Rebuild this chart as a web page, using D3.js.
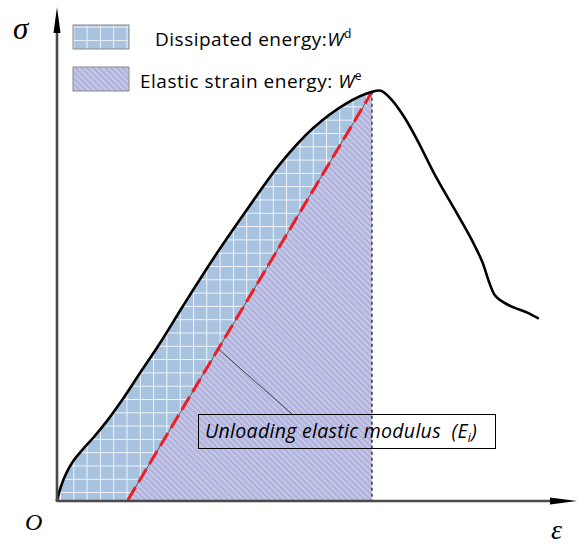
<!DOCTYPE html>
<html>
<head>
<meta charset="utf-8">
<script src="https://cdn.jsdelivr.net/npm/d3@7/dist/d3.min.js"></script>
<style>
  html, body { margin: 0; padding: 0; background: #fff; }
  svg { display: block; }
</style>
</head>
<body>
<svg id="chart" width="579" height="546"></svg>
<script>
// Stress–strain curve (arbitrary units)
const strain = [0, 0.08, 0.17, 0.30, 0.48, 0.69, 0.95, 1.24, 1.58, 1.96, 2.40, 3.01, 3.64, 4.25, 4.88, 5.49, 6.00, 6.17, 6.38, 6.61, 6.86, 7.20, 7.58, 7.90, 8.10, 8.23, 8.34, 8.50, 8.72, 8.97, 9.16];
const stress = [0, 0.29, 0.53, 0.78, 1.02, 1.27, 1.61, 2.04, 2.59, 3.20, 3.96, 4.98, 5.96, 6.86, 7.59, 8.08, 8.33, 8.35, 8.16, 7.82, 7.35, 6.63, 5.92, 5.31, 4.86, 4.45, 4.18, 4.04, 3.92, 3.82, 3.71];

// Unloading point on the curve and the residual strain where the unloading line meets the axis
const unloadPoint = [6.00, 8.33];
const residualStrain = 1.35;

const legendLabels = ["Dissipated energy:", "Elastic strain energy: "];
const legendSymbols = ["W", "W"];
const legendSups = ["d", "e"];
const axisLabels = { y: "σ", x: "ε", origin: "O" };
const noteLabel = "Unloading elastic modulus\u00a0\u00a0(E";
const noteSub = "i";

const svg = d3.select("#chart");
const x = d3.scaleLinear().domain([0, 10]).range([57, 582]);
const y = d3.scaleLinear().domain([0, 10]).range([500, 10]);

const pts = strain.map((s, i) => [s, stress[i]]);
const defs = svg.append("defs");

// Grid fill for dissipated energy
const grid = defs.append("pattern").attr("id", "grid")
  .attr("patternUnits", "userSpaceOnUse").attr("width", 13.3).attr("height", 13.3)
  .attr("x", 60).attr("y", 0);
grid.append("rect").attr("width", 13.3).attr("height", 13.3).attr("fill", "#a7c3df");
grid.append("path").attr("d", "M0,0H13.3M0,0V13.3").attr("stroke", "#f2f4f8").attr("stroke-width", 2);

// Diagonal hatch for elastic strain energy
const hatch = defs.append("pattern").attr("id", "hatch")
  .attr("patternUnits", "userSpaceOnUse").attr("width", 4.2).attr("height", 10)
  .attr("patternTransform", "rotate(-45)");
hatch.append("rect").attr("width", 4.2).attr("height", 10).attr("fill", "#ccc6e4");
hatch.append("rect").attr("width", 2.1).attr("height", 10).attr("fill", "#a9b3df");

defs.append("clipPath").attr("id", "preUnload")
  .append("rect").attr("x", x(0)).attr("y", 0)
  .attr("width", x(unloadPoint[0]) - x(0)).attr("height", y(0));

const curve = d3.curveCatmullRom.alpha(0.5);

// Area under the loading branch up to the unloading point
const area = d3.area().x(d => x(d[0])).y0(y(0)).y1(d => y(d[1])).curve(curve);
svg.append("path").datum(pts).attr("d", area)
  .attr("fill", "url(#grid)").attr("clip-path", "url(#preUnload)");

// Elastic triangle
const tri = [[residualStrain, 0], unloadPoint, [unloadPoint[0], 0]];
svg.append("path")
  .attr("d", "M" + tri.map(d => [x(d[0]), y(d[1])].join(",")).join("L") + "Z")
  .attr("fill", "url(#hatch)");

// Vertical dashed line at the unloading strain
svg.append("line")
  .attr("x1", x(unloadPoint[0])).attr("x2", x(unloadPoint[0]))
  .attr("y1", y(unloadPoint[1])).attr("y2", y(0))
  .attr("stroke", "#111").attr("stroke-width", 1.2).attr("stroke-dasharray", "3,3");

// Unloading line: thin grey line with red dashes on top
svg.append("line")
  .attr("x1", x(residualStrain)).attr("y1", y(0))
  .attr("x2", x(unloadPoint[0])).attr("y2", y(unloadPoint[1]))
  .attr("stroke", "#555").attr("stroke-width", 1);
svg.append("line")
  .attr("x1", x(residualStrain)).attr("y1", y(0))
  .attr("x2", x(unloadPoint[0])).attr("y2", y(unloadPoint[1]))
  .attr("stroke", "#ee1c24").attr("stroke-width", 3).attr("stroke-dasharray", "15,6");

// Stress–strain curve
const line = d3.line().x(d => x(d[0])).y(d => y(d[1])).curve(curve);
svg.append("path").datum(pts).attr("d", line)
  .attr("fill", "none").attr("stroke", "#000").attr("stroke-width", 2.6)
  .attr("stroke-linejoin", "round").attr("stroke-linecap", "round");

// Axes with arrow heads
const ax = svg.append("g");
const x0 = x(0), yb = y(0) + 1;
ax.append("line").attr("x1", x0).attr("y1", yb).attr("x2", 556).attr("y2", yb)
  .attr("stroke", "#4a4a4a").attr("stroke-width", 2.6);
ax.append("path").attr("d", `M550,${yb - 3.5}L577,${yb}L550,${yb + 3.5}Z`).attr("fill", "#000");
ax.append("line").attr("x1", x0).attr("y1", yb + 1).attr("x2", x0).attr("y2", 28)
  .attr("stroke", "#4a4a4a").attr("stroke-width", 2.6);
ax.append("path").attr("d", `M${x0 - 3.5},33L${x0},7L${x0 + 3.5},33Z`).attr("fill", "#000");

// Axis labels
const serif = "'Liberation Serif','DejaVu Serif',serif";
svg.append("text").attr("x", 13).attr("y", 39).text(axisLabels.y)
  .attr("font-family", serif).attr("font-style", "italic").attr("font-size", 31);
svg.append("text").attr("x", 551).attr("y", 539).text(axisLabels.x)
  .attr("font-family", serif).attr("font-style", "italic").attr("font-size", 28);
svg.append("text").attr("x", 25).attr("y", 530).text(axisLabels.origin)
  .attr("font-family", serif).attr("font-style", "italic").attr("font-size", 24);

// Legend
const sans = "'Open Sans', Lato, sans-serif";
const legendFills = ["url(#grid)", "url(#hatch)"];
const legendY = [25, 67];
const legendTextX = [155, 140];
legendLabels.forEach((lab, i) => {
  svg.append("rect").attr("x", 73).attr("y", legendY[i]).attr("width", 56).attr("height", 24)
    .attr("fill", legendFills[i]).attr("stroke", "#8a8a8a").attr("stroke-width", 1);
  const t = svg.append("text").attr("x", legendTextX[i]).attr("y", legendY[i] + 21)
    .attr("font-family", sans).attr("font-size", 19).attr("letter-spacing", 0.5).attr("fill", "#000");
  t.append("tspan").text(lab);
  t.append("tspan").attr("font-style", "italic").text(legendSymbols[i]);
  t.append("tspan").attr("font-size", 12).attr("dy", -8).text(legendSups[i]);
});

// Annotation for the unloading elastic modulus
const tNote = 0.37;
const lx = x(residualStrain + tNote * (unloadPoint[0] - residualStrain));
const ly = y(tNote * unloadPoint[1]);
svg.append("line").attr("x1", lx).attr("y1", ly).attr("x2", 292).attr("y2", 414)
  .attr("stroke", "#444").attr("stroke-width", 1);
svg.append("rect").attr("x", 198.5).attr("y", 414.5).attr("width", 297).attr("height", 34)
  .attr("fill", "none").attr("stroke", "#000").attr("stroke-width", 1);
const note = svg.append("text").attr("x", 205).attr("y", 438)
  .attr("font-family", sans).attr("font-style", "italic").attr("font-size", 19.5)
  .attr("letter-spacing", 0.3);
note.append("tspan").text(noteLabel);
note.append("tspan").attr("font-size", 12).attr("dy", 4).text(noteSub);
note.append("tspan").attr("dy", -4).text(")");
</script>
</body>
</html>
